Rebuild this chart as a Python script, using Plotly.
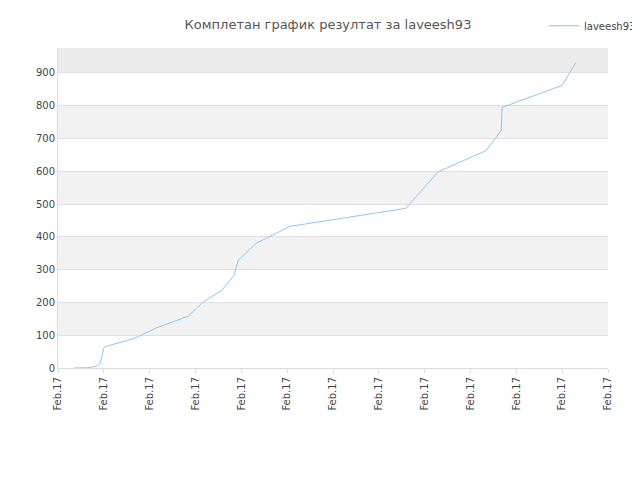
import plotly.graph_objects as go

# Time positions (fraction of tick intervals) and score values
x_vals = [0.35, 0.65, 0.83, 0.92, 0.96, 1.0, 1.05, 1.66, 2.14, 2.84, 3.14, 3.58,
          3.84, 3.93, 4.32, 5.06, 7.59, 8.29, 9.34, 9.67, 9.69, 11.0, 11.3]
y_vals = [0, 1, 5, 15, 35, 62, 66, 90, 122, 158, 198, 238,
          282, 328, 380, 432, 487, 598, 663, 725, 795, 862, 932]
tick_pos = list(range(13))
tick_labels = ["Feb.17"] * 13

fig = go.Figure()
fig.add_trace(go.Scatter(x=x_vals, y=y_vals, mode="lines", name="laveesh93",
                         line=dict(color="#8ec6f5", width=1)))

# alternating horizontal bands
shapes = []
for lo in range(100, 900, 200):
    shapes.append(dict(type="rect", xref="paper", yref="y", x0=0, x1=1, y0=lo, y1=lo + 100,
                       fillcolor="#f2f2f2", line_width=0, layer="below"))
shapes.append(dict(type="rect", xref="paper", yref="y", x0=0, x1=1, y0=900, y1=976,
                   fillcolor="#ebebeb", line_width=0, layer="below"))

fig.update_layout(
    width=640, height=480,
    title=dict(text="Комплетан график резултат за laveesh93", x=0.5, xanchor="center",
               y=0.975, automargin=False,
               font=dict(size=13, color="#555", family="DejaVu Sans")),
    font=dict(family="DejaVu Sans", size=10, color="#444"),
    margin=dict(l=50, r=40, t=40, b=120, autoexpand=False),
    plot_bgcolor="white", paper_bgcolor="white",
    shapes=shapes,
    showlegend=True,
    legend=dict(x=1.06, y=1.115, xanchor="right", yanchor="top", font=dict(size=10)),
    xaxis=dict(range=[0, 12], tickvals=tick_pos, ticktext=tick_labels, tickangle=-90,
               showgrid=False, zeroline=False, showline=True, linecolor="#ddd",
               ticks="outside", ticklen=4, tickcolor="#ddd", automargin=False),
    yaxis=dict(range=[0, 976], tickvals=list(range(0, 1000, 100)), gridcolor="#e0e0e0",
               zeroline=False, showline=True, linecolor="#ddd", automargin=False),
)

fig.write_html("out.html")
